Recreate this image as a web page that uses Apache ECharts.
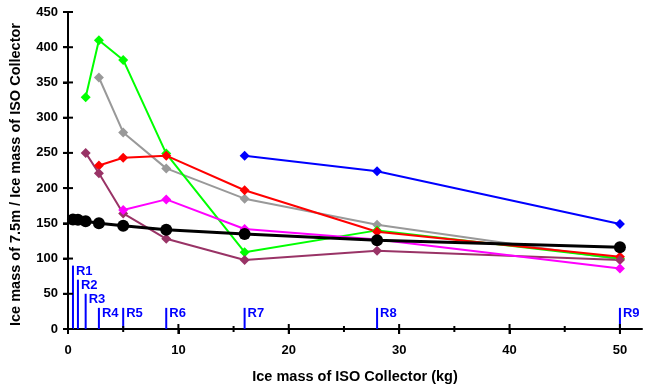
<!DOCTYPE html>
<html>
<head>
<meta charset="utf-8">
<script src="https://cdn.jsdelivr.net/npm/echarts@6/dist/echarts.min.js"></script>
<style>
  html, body { margin: 0; padding: 0; background: #fff; }
  #chart { width: 647px; height: 387px; }
</style>
</head>
<body>
<div id="chart"></div>
<script>
// x positions of the runs (ice mass of ISO collector, kg)
var xVals = [0.45, 0.9, 1.6, 2.8, 5, 8.9, 16, 28, 50];

// ratio series (null = no point)
var blackVals   = [155.5, 155, 153, 150, 146.5, 141, 135, 126, 116];
var greyVals    = [null, null, null, 357, 279, 228, 185, 148, 99];
var greenVals   = [null, null, 329, 410, 382, 249, 109, 140, 100];
var redVals     = [null, null, null, 232, 243, 246, 197, 138, 102.5];
var maroonVals  = [null, null, 250, 221, 164, 128, 98, 111, 98];
var magentaVals = [null, null, null, null, 169, 184, 142, 127, 86];
var blueVals    = [null, null, null, null, null, null, 246, 224, 149];

// run markers
var runLabels  = ['R1', 'R2', 'R3', 'R4', 'R5', 'R6', 'R7', 'R8', 'R9'];
var runHeights = [90, 70, 50, 30, 30, 30, 30, 30, 30];

// axis ticks
var majorTicks = [0, 10, 20, 30, 40, 50];
var minorTicks = [5, 15, 25, 35, 45];
var yTicks = [0, 50, 100, 150, 200, 250, 300, 350, 400, 450];

function pairs(vals) {
    var out = [];
    for (var i = 0; i < xVals.length; i++) {
        if (vals[i] != null) out.push([xVals[i], vals[i]]);
    }
    return out;
}

var chart = echarts.init(document.getElementById('chart'));

var labelFont = { fontFamily: 'Liberation Sans, Arial', fontWeight: 'bold', fontSize: 13, color: '#000' };

function lineSeries(name, vals, color) {
    return {
        name: name, type: 'line', data: pairs(vals),
        symbol: 'diamond', symbolSize: 10,
        itemStyle: { color: color },
        lineStyle: { color: color, width: 2 },
        connectNulls: true
    };
}

// crossing tick marks, placed with the axis scales
function tickSeries(name, vals, onX, half) {
    return {
        name: name, type: 'custom', clip: false, z: 5,
        data: vals.map(function (v) { return onX ? [v, 0] : [0, v]; }),
        renderItem: function (params, api) {
            var p = api.coord([api.value(0), api.value(1)]);
            var shape = onX ? { x1: p[0], y1: p[1] - half, x2: p[0], y2: p[1] + half }
                            : { x1: p[0] - half, y1: p[1], x2: p[0] + half, y2: p[1] };
            return {
                type: 'group',
                children: [{ type: 'line', shape: shape, style: { stroke: '#000', lineWidth: 2 } }]
            };
        }
    };
}

var series = [
    lineSeries('grey', greyVals, '#999999'),
    lineSeries('green', greenVals, '#00ff00'),
    lineSeries('red', redVals, '#ff0000'),
    lineSeries('maroon', maroonVals, '#993366'),
    lineSeries('magenta', magentaVals, '#ff00ff'),
    lineSeries('blue', blueVals, '#0000ff'),
    {
        name: 'black', type: 'line', data: pairs(blackVals),
        symbol: 'circle', symbolSize: 12,
        itemStyle: { color: '#000' },
        lineStyle: { color: '#000', width: 3 }
    },
    {
        name: 'runs', type: 'custom', clip: false,
        data: xVals.map(function (x, i) { return [x, runHeights[i]]; }),
        renderItem: function (params, api) {
            var p0 = api.coord([api.value(0), 0]);
            var p1 = api.coord([api.value(0), api.value(1)]);
            return {
                type: 'group',
                children: [
                    { type: 'line', shape: { x1: p0[0], y1: p0[1], x2: p1[0], y2: p1[1] },
                      style: { stroke: '#0000ff', lineWidth: 2 } },
                    { type: 'text', x: p1[0] + 3, y: p1[1] - 1,
                      style: { text: runLabels[params.dataIndex], fill: '#0000ff',
                               font: 'bold 13px "Liberation Sans", Arial',
                               align: 'left', verticalAlign: 'top' } }
                ]
            };
        },
        z: 1
    },
    tickSeries('xMajor', majorTicks, true, 5),
    tickSeries('xMinor', minorTicks, true, 3),
    tickSeries('yMajor', yTicks, false, 5)
];

var option = {
    animation: false,
    backgroundColor: '#fff',
    grid: { left: 68, right: 5, top: 12, bottom: 58, containLabel: false },
    xAxis: {
        type: 'value', min: 0, max: 52,
        axisLine: { show: true, lineStyle: { color: '#000', width: 2 } },
        axisTick: { show: true, length: 5, customValues: majorTicks, lineStyle: { color: '#000', width: 2 } },
        axisLabel: Object.assign({ show: true, margin: 15, customValues: majorTicks }, labelFont),
        splitLine: { show: false }
    },
    yAxis: {
        type: 'value', min: 0, max: 450, interval: 50,
        axisLine: { show: true, onZero: false, lineStyle: { color: '#000', width: 2 } },
        axisTick: { show: true, length: 5, lineStyle: { color: '#000', width: 2 } },
        axisLabel: Object.assign({ show: true, margin: 10 }, labelFont),
        splitLine: { show: false }
    },
    graphic: [
        { type: 'text', x: 355, y: 377,
          style: { text: 'Ice mass of ISO Collector (kg)', fill: '#000',
                   font: 'bold 14.5px "Liberation Sans", Arial',
                   align: 'center', verticalAlign: 'middle' } },
        { type: 'text', x: 16, y: 174.5, rotation: Math.PI / 2,
          style: { text: 'Ice mass of 7.5m / Ice mass of ISO Collector', fill: '#000',
                   font: 'bold 14.5px "Liberation Sans", Arial',
                   align: 'center', verticalAlign: 'middle' } }
    ],
    series: series
};

chart.setOption(option);
</script>
</body>
</html>
